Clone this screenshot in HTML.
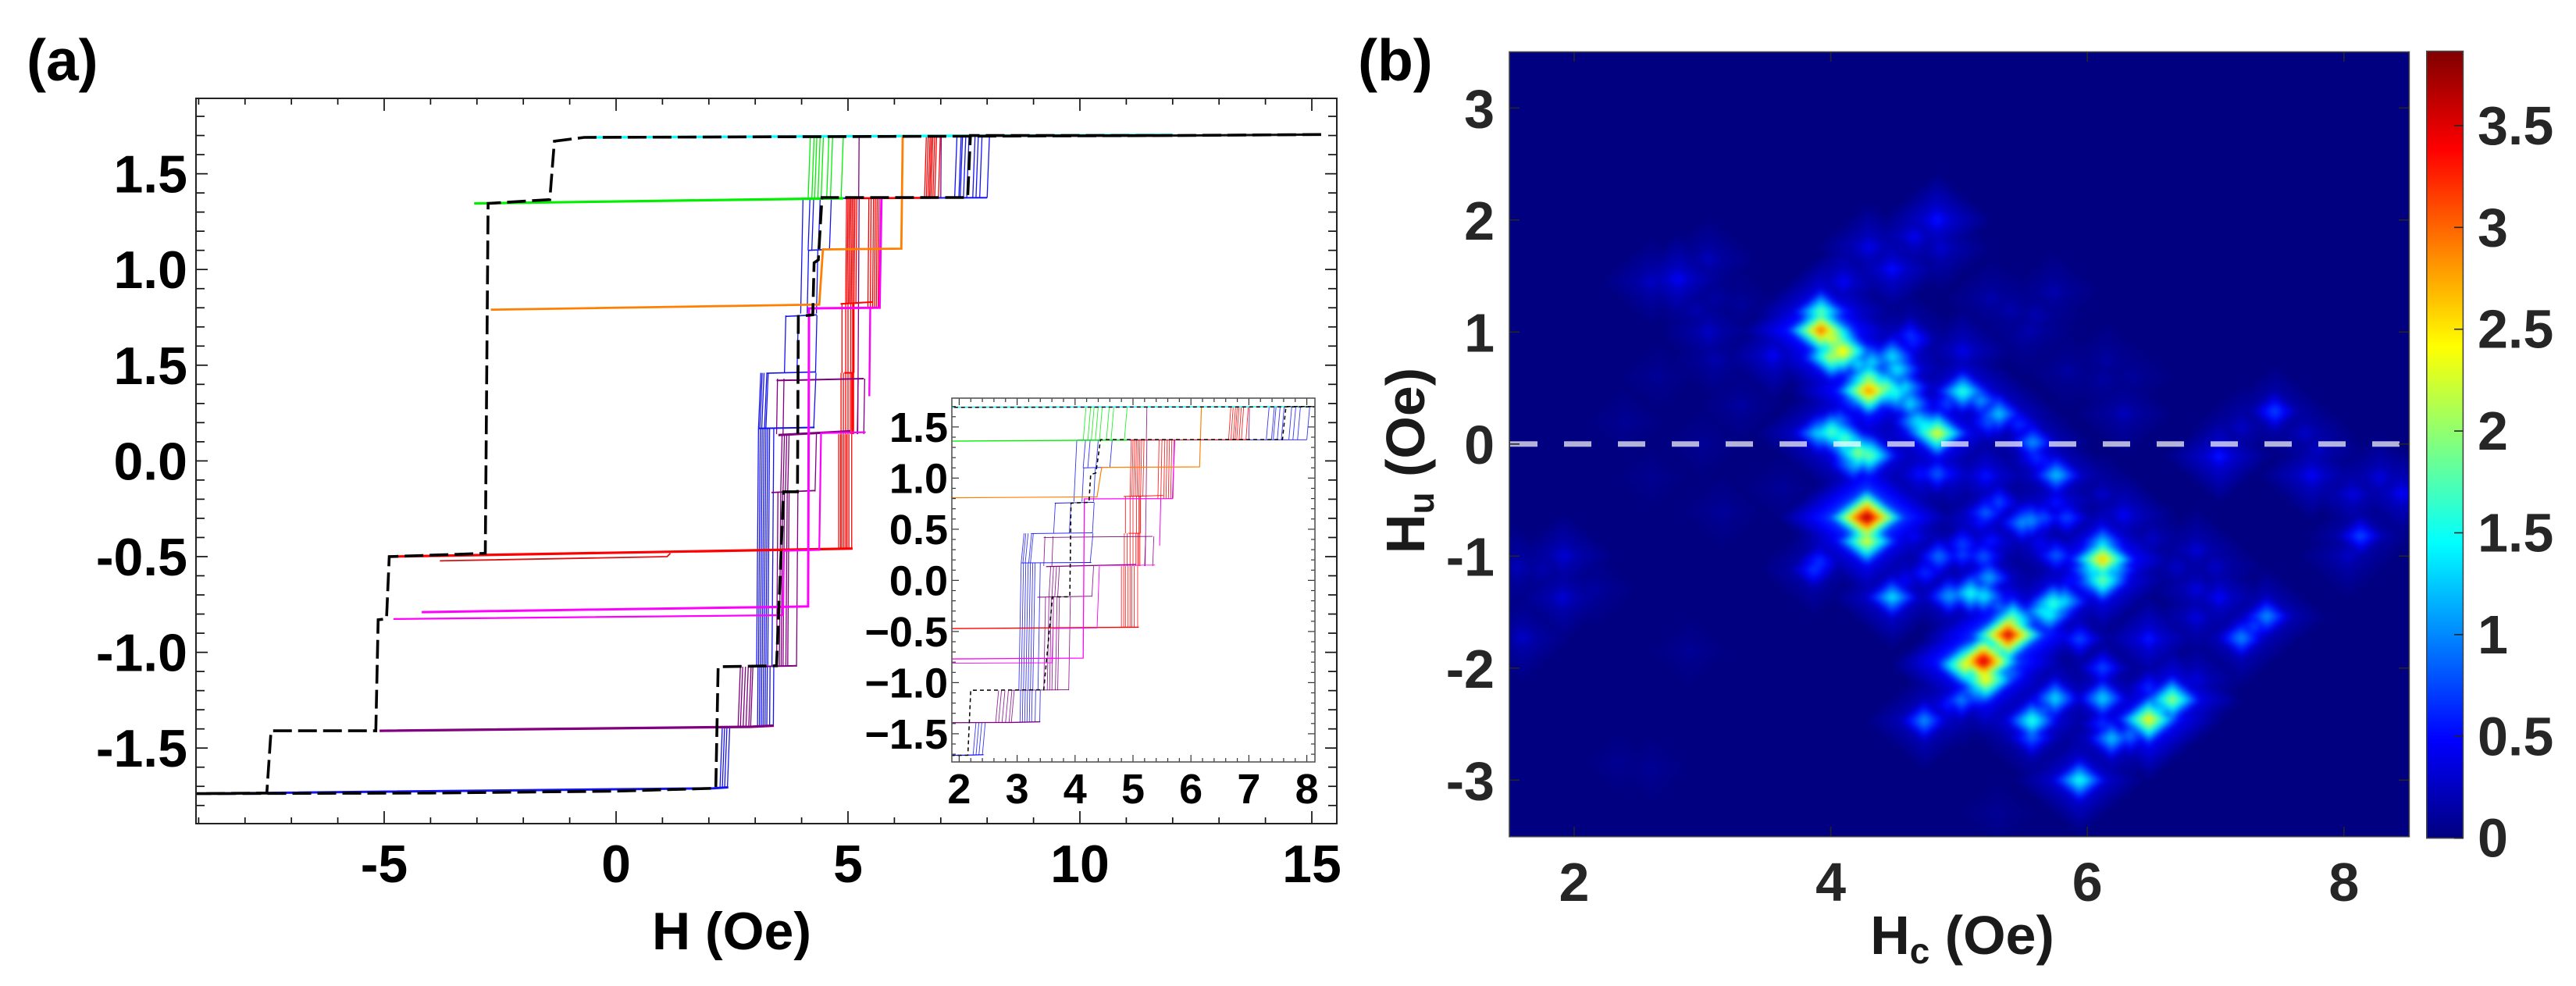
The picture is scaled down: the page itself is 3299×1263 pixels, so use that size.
<!DOCTYPE html>
<html lang="en">
<head>
<meta charset="utf-8">
<title>Hysteresis loops and FORC distribution</title>
<style>
html,body{margin:0;padding:0;background:#fff;}
svg{display:block;}
text{font-family:"Liberation Sans",Arial,sans-serif;font-weight:bold;}
</style>
</head>
<body>
<svg id="fig" xmlns="http://www.w3.org/2000/svg" width="3299" height="1263" viewBox="0 0 3299 1263">
  <defs>
    <clipPath id="clipMain"><rect x="251" y="126" width="1461" height="929"/></clipPath>
    <clipPath id="clipInset"><rect x="1219" y="510" width="465" height="466"/></clipPath>
    <clipPath id="clipMap"><rect x="1933" y="66.5" width="1152.4" height="1005.2"/></clipPath>
    <filter id="soft" filterUnits="userSpaceOnUse" x="1900" y="40" width="1220" height="1060" color-interpolation-filters="sRGB"><feGaussianBlur stdDeviation="3.5"/></filter>
    <linearGradient id="jetGradient" x1="0" y1="1" x2="0" y2="0">
      <stop offset="0" stop-color="#000080"/><stop offset="0.125" stop-color="#0000ff"/>
      <stop offset="0.375" stop-color="#00ffff"/><stop offset="0.625" stop-color="#ffff00"/>
      <stop offset="0.875" stop-color="#ff0000"/><stop offset="1" stop-color="#800000"/>
    </linearGradient>
  </defs>
  <text x="34" y="103" font-size="75" fill="#000">(a)</text>
  <text x="1739" y="103" font-size="75" fill="#000">(b)</text>

  <g id="plotA">
    <rect x="251" y="126" width="1461" height="929" fill="#fff"/>
    <g id="mainCurves" clip-path="url(#clipMain)" fill="none"></g>
    <g id="mainTicks" stroke="#111"></g>
    <rect x="251" y="126" width="1461" height="929" fill="none" stroke="#222" stroke-width="2"/>
    <g id="mainLabels" font-size="68" fill="#000"></g>
    <text x="937" y="1216" font-size="68" text-anchor="middle" fill="#000">H (Oe)</text>
  </g>

  <g id="plotInset">
    <rect x="1219" y="510" width="465" height="466" fill="#fff"/>
    <g id="insetCurves" clip-path="url(#clipInset)" fill="none"></g>
    <g id="insetTicks" stroke="#333"></g>
    <rect x="1219" y="510" width="465" height="466" fill="none" stroke="#555" stroke-width="1.6"/>
    <g id="insetLabels" font-size="54" fill="#000"></g>
  </g>

  <g id="plotB">
    <g clip-path="url(#clipMap)">
      <rect x="1933" y="66.5" width="1152.4" height="1005.2" fill="#000080"/>
      <g id="mapCells" filter="url(#soft)"></g>
    </g>
    <line id="zeroLine" stroke="#fff" stroke-opacity="0.7" stroke-width="7" stroke-dasharray="35 34"/>
    <g id="mapTicks" stroke="#262626" stroke-width="1.6"></g>
    <rect x="1933" y="66.5" width="1152.4" height="1005.2" fill="none" stroke="#444" stroke-width="1.6"/>
    <g id="mapLabels" font-size="70" fill="#262626"></g>
    <text x="2513" y="1222" font-size="70" text-anchor="middle" fill="#1a1a1a">H<tspan font-size="46" dy="12">c</tspan><tspan dy="-12"> (Oe)</tspan></text>
    <text transform="translate(1824,590) rotate(-90)" font-size="70" text-anchor="middle" fill="#1a1a1a">H<tspan font-size="46" dy="12">u</tspan><tspan dy="-12"> (Oe)</tspan></text>
    <rect x="3107.8" y="65.6" width="46.6" height="1008" fill="url(#jetGradient)" stroke="#444" stroke-width="1.6"/>
    <g id="barTicks" stroke="#262626" stroke-width="1.6"></g>
    <g id="barLabels" font-size="70" fill="#262626"></g>
  </g>
</svg>

<script>
/* ---------- panel (a) tick labels ---------- */
const mainXTicks = [-5, 0, 5, 10, 15];
const mainYTickValues = [-1.5, -1, -0.5, 0, 0.5, 1, 1.5];
const mainYTickLabels = ["-1.5", "-1.0", "-0.5", "0.0", "1.5", "1.0", "1.5"];
const insetXTicks = [2, 3, 4, 5, 6, 7, 8];
const insetYTickValues = [-1.5, -1, -0.5, 0, 0.5, 1, 1.5];
const insetYTickLabels = ["\u22121.5", "\u22121.0", "\u22120.5", "0.0", "0.5", "1.0", "1.5"];

/* ---------- panel (a) traces: field H (Oe) and moment M ---------- */
const outerH = [15.2, 12, -0.69, -1.33, -1.43, -2.76, -2.82, -4.89, -4.95, -5.13, -5.18, -7.44, -7.53, -9.05, -4, 0, 2.15, 2.2, 3.46, 3.61, 3.91, 3.93, 4.24, 4.27, 4.36, 4.44, 7.58, 7.64, 12];
const outerM = [1.705, 1.70, 1.69, 1.67, 1.365, 1.345, -0.483, -0.50, -0.825, -0.83, -1.41, -1.41, -1.735, -1.738, -1.735, -1.725, -1.71, -1.075, -1.07, -0.161, -0.161, 0.755, 0.763, 1.035, 1.05, 1.376, 1.376, 1.70, 1.70];
const cyanH = [-0.7, 12]; const cyanM = [1.69, 1.703];
const greenH = [-3.06, 4.9]; const greenM = [1.345, 1.372];
const orangeH = [-2.7, 4.38, 4.46, 6.15, 6.18]; const orangeM = [0.79, 0.817, 1.105, 1.109, 1.70];
const redH = [-4.9, 5.1]; const redM = [-0.50, -0.458];
const redLowH = [-3.8, 1.1, 1.17]; const redLowM = [-0.522, -0.50, -0.483];
const redTopH = [4.94, 6.95]; const redTopM = [1.372, 1.375];
const redMidH = [4.84, 5.52]; const redMidM = [0.82, 0.83];
const redHalfH = [4.92, 5.12]; const redHalfM = [0.46, 0.46];
const magentaAH = [-4.19, 4.14, 4.16, 5.68, 5.72]; const magentaAM = [-0.79, -0.76, 0.797, 0.80, 1.37];
const magentaBH = [-4.8, 3.6, 3.62, 4.38, 4.42, 5.38]; const magentaBM = [-0.826, -0.806, -0.47, -0.465, 0.145, 0.15];
const magentaCH = [5.46, 5.48]; const magentaCM = [0.338, 0.80];
const purpleH = [-5.1, 2.9, 3.4]; const purpleM = [-1.41, -1.389, -1.383];
const purpleFloorH = [2.9, 3.89]; const purpleFloorM = [-1.075, -1.07];
const purpleLowH = [3.35, 4.29]; const purpleLowM = [-0.165, -0.155];
const purpleMidH = [3.5, 5.05]; const purpleMidM = [0.135, 0.155];
const purpleUpH = [3.46, 5.34]; const purpleUpM = [0.42, 0.43];
const blueBottomH = [-9.05, 2.1, 2.42]; const blueBottomM = [-1.738, -1.71, -1.705];
const blueLevelAH = [3.07, 4.28]; const blueLevelAM = [0.17, 0.175];
const blueLevelBH = [3.24, 4.3]; const blueLevelBM = [0.458, 0.465];
const blueLevelCH = [3.65, 4.33]; const blueLevelCM = [0.755, 0.763];
const blueLevelDH = [4.14, 4.6]; const blueLevelDM = [1.10, 1.105];
const blueTopH = [4.04, 8.0]; const blueTopM = [1.372, 1.375];
const blackTraceH = [12, 15.2]; const blackTraceM = [1.70, 1.705];

/* ---------- risers: switching fields of the minor loops ---------- */
const blueRiseBottom = [2.24, 2.29, 2.34, 2.40];
const purpleRiseLow = [2.63, 2.68, 2.74, 2.80, 2.86, 2.90];
const blueRiseLow = [3.05, 3.09, 3.13, 3.17, 3.21, 3.25, 3.31, 3.39];
const blueRiseMid = [3.03, 3.07, 3.11, 3.15, 3.19, 3.23, 3.27, 3.36];
const blueRiseHalf = [3.07, 3.1, 3.14, 3.2, 3.23, 4.26];
const blueRiseUpper = [3.63, 3.9, 4.3];
const blueRiseLarge = [3.98];
const blueRiseNear = [4.12, 4.32];
const blueRiseTop = [4.14, 4.22, 4.36, 4.6];
const blueRiseSat = [7.30, 7.39, 7.42, 7.49, 7.56, 7.69, 7.76, 7.84, 8.0];
const greenRise = [4.14, 4.22, 4.28, 4.35, 4.42, 4.54, 4.62, 4.85];
const purpleRiseA = [3.46, 3.52, 3.56, 3.60, 3.66, 3.70, 3.89];
const purpleRiseB = [3.55, 3.6, 3.65, 3.7, 4.29];
const purpleRiseC = [3.46, 3.6, 5.2, 5.34];
const purpleRiseLong = [5.21];
const purpleRiseSat = [5.23, 7.0];
const redRiseA = [4.80, 4.84, 4.87, 4.91, 4.95, 4.98, 5.02, 5.08];
const redRiseB = [4.85, 4.9, 4.95, 5.0, 5.05, 5.08, 5.1, 5.12];
const redRiseC = [4.87, 4.95, 5.0, 5.06, 5.1, 5.12, 5.13];
const redRiseD = [4.95, 4.98, 5.01, 5.04, 5.07, 5.1, 5.13, 5.17];
const redRiseE = [5.43, 5.48, 5.53, 5.57, 5.61, 5.65, 5.69];
const redRiseSat = [6.65, 6.69, 6.73, 6.76, 6.79, 6.83, 6.87, 6.95];

/* ---------- panel (b) ---------- */
const mapXTicks = [2, 4, 6, 8];
const mapYTicks = [-3, -2, -1, 0, 1, 2, 3];
const barTicks = [0, 0.5, 1, 1.5, 2, 2.5, 3, 3.5];
const barMax = 3.82;
const nodeHc = [
  4.48,4.52,4.58,4.62,4.68,4.74,4.83,4.32,4.215,
  4.30,4.30,4.42,4.50,
  3.925,4.01,4.09,4.01,3.925,4.07,4.11,
  3.91,4.01,4.11,4.215,4.30,4.175,4.07,
  4.175,4.905,3.69,
  5.03,5.17,5.31,5.23,5.47,5.575,5.605,5.76,5.675,
  4.83,4.70,4.945,
  5.21,5.31,5.21,5.17,5.555,5.49,5.655,5.84,5.76,5.76,5.635,
  6.12,6.12,6.12,6.04,6.20,6.0,5.88,
  5.25,5.03,4.845,5.03,5.19,5.23,5.09,4.925,5.19,4.74,4.48,4.58,4.64,4.52,3.87,3.91,
  5.31,5.735,5.655,5.82,
  5.03,4.48,4.30,4.62,4.64,
  5.735,5.555,6.12,6.285,6.285,6.12,
  4.30,4.28,4.28,4.28,
  5.7,5.383,5.29,5.42,5.19,5.21,5.05,5.31,5.15,5.02,5.4,
  5.94,6.48,6.85,7.03,5.75,5.66,5.57,5.57,
  6.12,6.12,6.12,6.19,6.33,6.48,6.66,6.57,6.48,6.85,
  4.73,4.92,5.94,7.4,7.2,7.3,8.13,8.03,
  7.46,7.03,7.75,8.07,8.45,7.8,8.28,
  4.83,4.65,4.86,2.81,3.05,3.05,3.3,3.55,
  2.95,3.1,2.65,2.4,5.4,5.25,5.85,6.3,6.85,7.0,
  1.91,1.92,1.6,1.75,2.35,3.15,3.62,5.3,4.95,
  2.15,1.55,2.6,2.9,2.6,3.1,4.1,5.6,5.5,6.15,6.35,7.2,7.7,3.3,3.0,2.6,6.5,6.7,6.85];
const nodeHu = [
  0.781,0.665,0.503,0.363,0.2,0.154,0.096,0.735,0.712,
  0.572,0.479,0.503,0.456,
  1.014,0.944,0.828,0.781,1.176,1.06,1.176,
  0.096,0.108,0.038,-0.078,-0.101,-0.171,0.2,
  0.386,0.363,0.944,
  0.468,0.386,0.27,0.2,0.177,0.015,-0.125,-0.276,-0.171,
  -0.264,-0.264,-0.264,
  -0.287,-0.52,-0.613,-0.682,-0.682,-0.705,-0.659,-0.659,-0.52,-0.996,-0.891,
  -1.03,-0.891,-1.216,-1.124,-1.124,-1.24,-1.216,
  -0.868,-0.891,-1.007,-0.984,-1.007,-1.193,-1.333,-1.356,-1.356,-1.147,-1.367,-1.216,-0.82,-0.915,-1.124,-1.054,
  -1.449,-1.425,-1.495,-1.402,
  0.828,1.56,1.757,0.967,0.92,
  1.36,1.014,0.572,0.27,-0.636,-0.45,
  -0.287,-0.655,-0.868,-0.98,
  -1.52,-1.704,-1.84,-1.565,-1.937,-2.1,-1.97,-1.95,-2.2,-2.285,-2.05,
  -1.74,-1.74,-1.55,-1.37,-2.27,-2.38,-2.47,-2.62,
  -2.27,-2.0,-2.5,-2.63,-2.6,-2.46,-2.28,-2.36,-2.18,-2.1,
  -2.47,-2.33,-3.0,-1.54,-1.73,-1.63,-0.82,-1.0,
  0.29,-0.11,-0.28,-0.45,-0.44,-0.05,-0.3,
  2.0,1.85,1.75,1.47,1.65,1.0,1.25,0.79,
  1.2,0.75,0.6,0.2,1.2,1.3,0.65,0.3,-0.95,-1.1,
  -1.37,-1.0,-1.73,-1.12,-2.85,-0.6,-0.4,-3.3,-0.05,
  -1.3,-1.1,-2.9,-1.85,1.45,1.3,1.45,1.15,0.95,0.75,0.6,0.15,0.1,0.35,0.0,-0.3,-0.85,-1.1,-1.3];
const nodeValue = [
  1.45,1.5,1.4,1.4,1.5,1.7,2.4,1.4,1.4,
  2.2,3.0,2.1,1.7,
  3.05,2.5,2.7,2.3,1.9,1.0,0.6,
  1.4,1.9,1.9,2.1,2.0,1.3,1.0,
  0.9,0.8,0.5,
  1.7,1.1,1.3,0.9,0.7,1.1,0.7,1.3,0.6,
  0.9,0.6,0.5,
  0.6,0.8,0.9,0.6,1.15,1.1,0.85,0.8,0.6,0.9,0.5,
  2.7,1.4,2.0,1.5,1.4,0.9,0.6,
  0.6,0.8,1.0,0.8,0.9,1.2,1.6,1.2,1.5,0.7,1.4,0.5,0.5,0.4,0.75,0.75,
  0.9,1.8,1.5,1.4,
  0.45,0.55,0.45,0.7,0.7,
  0.2,0.2,0.15,0.25,0.5,0.3,
  0.6,3.85,2.4,0.9,
  1.6,3.6,2.0,2.0,3.8,2.6,2.5,1.8,1.3,1.0,1.0,
  0.8,0.6,0.4,0.5,1.4,0.9,1.7,0.9,
  1.4,0.8,0.7,1.3,1.0,2.5,2.1,1.4,0.7,0.4,
  1.1,0.6,1.6,1.1,1.1,0.8,0.8,0.3,
  0.8,0.6,0.5,0.4,0.5,0.3,0.4,
  0.6,0.45,0.35,0.5,0.25,0.3,0.12,0.5,
  0.2,0.2,0.1,0.1,0.2,0.2,0.15,0.15,0.35,0.3,
  0.35,0.35,0.3,0.2,0.08,0.12,0.12,0.1,0.4,
  0.15,0.25,0.1,0.1,0.3,0.15,0.5,0.2,0.15,0.15,0.12,0.3,0.3,0.15,0.1,0.08,0.3,0.3,0.4];

/* ---------- axis functions ---------- */
function xMain(h){return 789 + 59.4*h;}
function yMain(m){return 590.4 - 245.2*m;}
function xInset(h){return 1228.4 + 74.2*(h-2);}
function yInset(m){return 743.4 - 131*m;}
function xMap(hc){return 2016 + 164.3*(hc-2);}
function yMap(hu){return 568.8 - 143.5*hu;}
function yBar(v){return 1073.7 - 260.8*v;}

const NS = "http://www.w3.org/2000/svg";
const mainCurves = document.getElementById('mainCurves');
const insetCurves = document.getElementById('insetCurves');

function drawTrace(hs, ms, color, width, dash){
  const pairs = [[mainCurves, xMain, yMain, width, dash ? '24 8' : null],
                 [insetCurves, xInset, yInset, Math.max(width*0.42, 0.9), dash ? '5 4' : null]];
  pairs.forEach(function(p){
    const pts = hs.map(function(h,i){return p[1](h).toFixed(1)+','+p[2](ms[i]).toFixed(1);}).join(' ');
    const el = document.createElementNS(NS,'polyline');
    
    
    el.setAttribute('points', pts);
    el.setAttribute('stroke', color);
    el.setAttribute('stroke-width', p[3]);
    el.setAttribute('stroke-linejoin', 'miter');
    if(p[4]) el.setAttribute('stroke-dasharray', p[4]);
    p[0].appendChild(el);
  });
}
function drawRisers(hs, low, high, lean, color){
  hs.forEach(function(h){
    const pairs = [[mainCurves, xMain, yMain, 1.3, 1],[insetCurves, xInset, yInset, 0.9, 0.85]];
    pairs.forEach(function(p){
      const el = document.createElementNS(NS,'line');
      
      
      el.setAttribute('x1', p[1](h));
      el.setAttribute('y1', p[2](low));
      el.setAttribute('x2', p[1](h+lean));
      el.setAttribute('y2', p[2](high));
      el.setAttribute('stroke', color);
      el.setAttribute('stroke-width', p[3]);
      el.setAttribute('stroke-opacity', p[4]);
      p[0].appendChild(el);
    });
  });
}
const BLUE='#1414f0', GREEN='#00f000', PURPLE='#800080', RED='#ff0000', MAG='#ff00ff', ORANGE='#ff8000', CYAN='#00ffff';

drawRisers(blueRiseBottom,-1.71,-1.39,0.05,BLUE);
drawRisers(blueRiseLow,-1.385,-1.075,0.01,BLUE);
drawRisers(blueRiseMid,-1.075,0.17,0.04,BLUE);
drawRisers(blueRiseHalf,0.17,0.46,0.05,BLUE);
drawRisers(blueRiseUpper,0.46,0.76,0.03,BLUE);
drawRisers(blueRiseLarge,0.77,1.37,0.05,BLUE);
drawRisers(blueRiseNear,0.77,1.10,0.03,BLUE);
drawRisers(blueRiseTop,1.10,1.37,0.04,BLUE);
drawRisers(blueRiseSat,1.375,1.70,0.05,BLUE);
drawRisers(greenRise,1.365,1.70,0.05,GREEN);
drawRisers(purpleRiseLow,-1.39,-1.075,0.05,PURPLE);
drawRisers(purpleRiseA,-1.075,-0.16,0.03,PURPLE);
drawRisers(purpleRiseB,-0.16,0.14,0.03,PURPLE);
drawRisers(purpleRiseC,0.14,0.43,0.02,PURPLE);
drawRisers(purpleRiseLong,0.14,1.37,0.03,PURPLE);
drawRisers(purpleRiseSat,1.37,1.70,0.01,PURPLE);
drawRisers(redRiseA,-0.46,0.14,0,RED);
drawRisers(redRiseB,0.14,0.46,0,RED);
drawRisers(redRiseC,0.46,0.82,0,RED);
drawRisers(redRiseD,0.82,1.37,0.02,RED);
drawRisers(redRiseE,0.80,1.37,0.02,RED);
drawRisers(redRiseSat,1.375,1.70,0.04,RED);

drawTrace(cyanH,cyanM,CYAN,3.2);
drawTrace(blueBottomH,blueBottomM,BLUE,3);
drawTrace(blueTopH,blueTopM,BLUE,2);
drawTrace(blueLevelAH,blueLevelAM,BLUE,2);
drawTrace(blueLevelBH,blueLevelBM,BLUE,1.6);
drawTrace(blueLevelCH,blueLevelCM,BLUE,1.6);
drawTrace(blueLevelDH,blueLevelDM,BLUE,1.6);
drawTrace(greenH,greenM,GREEN,3.2);
drawTrace(purpleFloorH,purpleFloorM,PURPLE,2);
drawTrace(purpleLowH,purpleLowM,PURPLE,1.8);
drawTrace(purpleMidH,purpleMidM,PURPLE,3);
drawTrace(purpleUpH,purpleUpM,PURPLE,2);
drawTrace(purpleH,purpleM,PURPLE,3.2);
drawTrace(redLowH,redLowM,'#dd1010',1.8);
drawTrace(redH,redM,RED,3.2);
drawTrace(redTopH,redTopM,RED,2.6);
drawTrace(redMidH,redMidM,RED,2);
drawTrace(redHalfH,redHalfM,RED,2);
drawTrace(magentaBH,magentaBM,MAG,2.2);
drawTrace(magentaAH,magentaAM,MAG,3);
drawTrace(magentaCH,magentaCM,MAG,2.4);
drawTrace(orangeH,orangeM,ORANGE,2.8);
drawTrace(blackTraceH,blackTraceM,'#111',3);
drawTrace(outerH,outerM,'#000',3.6,true);

/* ---------- ticks & labels ---------- */
function tick(parent,x1,y1,x2,y2,w){
  const el = document.createElementNS(NS,'line');
  
  
  el.setAttribute('x1',x1); el.setAttribute('y1',y1);
  el.setAttribute('x2',x2); el.setAttribute('y2',y2);
  if(w) el.setAttribute('stroke-width',w);
  parent.appendChild(el);
}
function label(parent,str,x,y,anchor){
  const el = document.createElementNS(NS,'text');
  
  
  el.setAttribute('x',x); el.setAttribute('y',y);
  el.setAttribute('text-anchor',anchor);
  el.textContent = str;
  parent.appendChild(el);
}
const mt = document.getElementById('mainTicks');
for(let h=-9;h<=15;h++){
  const len = (h%5===0)?16:8, x=xMain(h);
  tick(mt,x,126,x,126+len,1.7); tick(mt,x,1055,x,1055-len,1.7);
}
for(let i=-18;i<=18;i++){
  const len = (i%5===0)?15:11, y=yMain(i/10);
  tick(mt,251,y,251+len,y,1.7); tick(mt,1712,y,1712-len,y,1.7);
}
const ml = document.getElementById('mainLabels');
mainXTicks.forEach(function(v){label(ml,String(v),xMain(v),1130,'middle');});
mainYTickValues.forEach(function(v,i){label(ml,mainYTickLabels[i],240,yMain(v)+24,'end');});

const it = document.getElementById('insetTicks');
for(let i=10;i<=40;i++){
  const len = (i%5===0)?9:5, x=xInset(i/5);
  tick(it,x,510,x,510+len,1.2); tick(it,x,976,x,976-len,1.2);
}
for(let i=-17;i<=17;i++){
  const len = (i%5===0)?9:5, y=yInset(i/10);
  tick(it,1219,y,1219+len,y,1.2); tick(it,1684,y,1684-len,y,1.2);
}
const il = document.getElementById('insetLabels');
insetXTicks.forEach(function(v){label(il,String(v),xInset(v),1029,'middle');});
insetYTickValues.forEach(function(v,i){label(il,insetYTickLabels[i],1214,yInset(v)+19,'end');});

/* ---------- heat map: pyramid field over nodes, with a broad low halo ---------- */
function field(hc,hu){
  let best = 0;
  for(let i=0;i<nodeValue.length;i++){
    const v = nodeValue[i];
    const a = 0.2+0.04*v;
    const b = 0.2+0.03*v;
    const dx = Math.abs(hc-nodeHc[i]);
    const dy = Math.abs(hu-nodeHu[i]);
    const k = 1-dx/a-dy/b;
    if(k>0 && v*k>best) best = v*k;
    const halo = 1-dx/(2*a)-dy/(2*b);
    const haloValue = v*halo*(v<0.7 ? 0.65 : 0.3);
    if(halo>0 && haloValue>best) best = haloValue;
  }
  return best;
}
function clamp(t){return Math.max(0,Math.min(1,t));}
function jet(v){
  const t = clamp(v/barMax);
  const r = clamp(Math.min(4*t-1.5,-4*t+4.5));
  const g = clamp(Math.min(4*t-0.5,-4*t+3.5));
  const b = clamp(Math.min(4*t+0.5,-4*t+2.5));
  return 'rgb('+Math.round(r*255)+','+Math.round(g*255)+','+Math.round(b*255)+')';
}
const mapCells = document.getElementById('mapCells');
const CELL = 6;
for(let px=1933;px<3086;px+=CELL){
  for(let py=66;py<1072;py+=CELL){
    const hc = 2+(px+CELL/2-2016)/164.3;
    const hu = (568.8-(py+CELL/2))/143.5;
    const v = field(hc,hu);
    if(v<0.02) continue;
    const el = document.createElementNS(NS,'rect');
    
    
    el.setAttribute('x',px); el.setAttribute('y',py);
    el.setAttribute('width',CELL+0.5); el.setAttribute('height',CELL+0.5);
    el.setAttribute('fill',jet(v));
    mapCells.appendChild(el);
  }
}
const zero = document.getElementById('zeroLine');
zero.setAttribute('x1',1934); zero.setAttribute('x2',3075);
zero.setAttribute('y1',yMap(0)); zero.setAttribute('y2',yMap(0));

const mk = document.getElementById('mapTicks');
mapXTicks.forEach(function(v){const x=xMap(v);tick(mk,x,66.5,x,79);tick(mk,x,1071.7,x,1059);});
mapYTicks.forEach(function(v){const y=yMap(v);tick(mk,1933,y,1946,y);tick(mk,3085.4,y,3072,y);});
const mb = document.getElementById('mapLabels');
mapXTicks.forEach(function(v){label(mb,String(v),xMap(v),1154,'middle');});
mapYTicks.forEach(function(v){label(mb,String(v),1914,yMap(v)+25,'end');});

const bt = document.getElementById('barTicks');
const bl = document.getElementById('barLabels');
barTicks.forEach(function(v){
  const y=yBar(v);
  tick(bt,3143,y,3154.4,y);
  label(bl,String(v),3173,y+24,'start');
});
</script>
</body>
</html>
